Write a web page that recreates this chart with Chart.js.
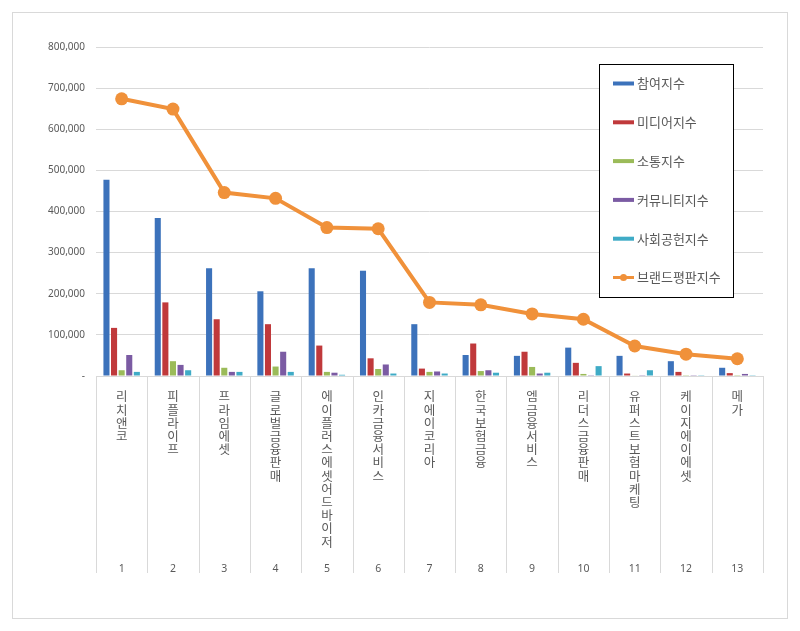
<!DOCTYPE html>
<html>
<head>
<meta charset="utf-8">
<script src="https://cdn.jsdelivr.net/npm/chart.js@4/dist/chart.umd.min.js"></script>
<style>
  html, body { margin: 0; padding: 0; background: #fff; }
  #wrap { position: relative; width: 800px; height: 631px; }
</style>
</head>
<body>
<div id="wrap"><canvas id="chart" width="800" height="631"></canvas></div>
<script>
// 브랜드 이름 (세로로 한 글자씩 표시)
const brands = ["리치앤코", "피플라이프", "프라임에셋", "글로벌금융판매", "에이플러스에셋어드바이저",
  "인카금융서비스", "지에이코리아", "한국보험금융", "엠금융서비스", "리더스금융판매",
  "유퍼스트보험마케팅", "케이지에이에셋", "메가"];
const ranks = ["1", "2", "3", "4", "5", "6", "7", "8", "9", "10", "11", "12", "13"];

const participation = [477000, 384000, 262000, 206000, 262000, 256000, 126000, 51000, 49000, 69000, 49000, 36000, 20000];
const media = [117000, 179000, 138000, 126000, 74000, 43000, 18000, 79000, 59000, 32000, 6000, 10000, 7000];
const communication = [14000, 36000, 20000, 23000, 10000, 17000, 10000, 12000, 22000, 5000, 1000, 500, 2000];
const community = [51000, 27000, 10000, 59000, 8000, 28000, 11000, 14000, 6000, 500, 500, 500, 5000];
const contribution = [10000, 14000, 10000, 10000, 3000, 6000, 6000, 8000, 8000, 24000, 14000, 500, 500];
const reputation = [674000, 649000, 446000, 432000, 361000, 358000, 179000, 173000, 151000, 138000, 73000, 53000, 42000];

const yTicks = [0, 100000, 200000, 300000, 400000, 500000, 600000, 700000, 800000];

const textColor = "#595959";
const gridColor = "#d9d9d9";
const krFont = "'Noto Sans CJK KR', 'Noto Sans', sans-serif";
const numFont = "'Noto Sans', 'Liberation Sans', sans-serif";

// 바깥 테두리, 구분선, 범례 상자
const framePlugin = {
  id: "frame",
  beforeDraw(chart) {
    const c = chart.ctx;
    c.save();
    c.fillStyle = "#fff";
    c.fillRect(0, 0, chart.width, chart.height);
    c.strokeStyle = gridColor;
    c.lineWidth = 1;
    c.strokeRect(12.5, 12.5, 775, 606);
    c.restore();
  },
  afterDraw(chart) {
    const c = chart.ctx;
    const x = chart.scales.x;
    const x2 = chart.scales.x2;
    const n = brands.length;
    c.save();
    c.strokeStyle = gridColor;
    c.lineWidth = 1;
    c.beginPath();
    for (let i = 0; i <= n; i++) {
      const px = Math.round(x.left + i * x.width / n) + 0.5;
      c.moveTo(px, chart.chartArea.bottom);
      c.lineTo(px, x2.bottom);
    }
    c.stroke();

    // 범례
    const bx = 599.5, by = 64.5, bw = 134, bh = 233;
    c.fillStyle = "#fff";
    c.fillRect(bx, by, bw, bh);
    c.strokeStyle = "#000";
    c.lineWidth = 1;
    c.strokeRect(bx, by, bw, bh);
    c.font = "13px " + krFont;
    c.textBaseline = "middle";
    chart.data.datasets.forEach((ds, i) => {
      const y = 83.5 + i * 38.8;
      c.strokeStyle = ds.borderColor;
      c.fillStyle = ds.backgroundColor;
      if (ds.type === "line") {
        c.lineWidth = 3;
        c.beginPath();
        c.moveTo(613, y);
        c.lineTo(634, y);
        c.stroke();
        c.beginPath();
        c.arc(623.5, y, 3.5, 0, Math.PI * 2);
        c.fill();
      } else {
        c.fillRect(613, y - 2, 21, 4);
      }
      c.fillStyle = textColor;
      c.fillText(ds.label, 637, y);
    });
    c.restore();
  }
};

const barCommon = {
  type: "bar",
  xAxisID: "x",
  categoryPercentage: 0.74,
  barPercentage: 0.8,
  borderWidth: 0,
  order: 2
};

new Chart(document.getElementById("chart").getContext("2d"), {
  data: {
    labels: brands,
    datasets: [
      { ...barCommon, label: "참여지수", data: participation, backgroundColor: "#3c72bb", borderColor: "#3c72bb" },
      { ...barCommon, label: "미디어지수", data: media, backgroundColor: "#c0393b", borderColor: "#c0393b" },
      { ...barCommon, label: "소통지수", data: communication, backgroundColor: "#9bbb59", borderColor: "#9bbb59" },
      { ...barCommon, label: "커뮤니티지수", data: community, backgroundColor: "#7b5ba3", borderColor: "#7b5ba3" },
      { ...barCommon, label: "사회공헌지수", data: contribution, backgroundColor: "#3fabc6", borderColor: "#3fabc6" },
      {
        type: "line", label: "브랜드평판지수", data: reputation, xAxisID: "x", order: 1,
        borderColor: "#f0913a", backgroundColor: "#f0913a", borderWidth: 4,
        pointRadius: 6.5, pointHoverRadius: 6.5, pointBorderWidth: 0, tension: 0
      }
    ]
  },
  options: {
    responsive: false,
    animation: false,
    layout: { padding: { left: 12, right: 37, top: 47, bottom: 58 } },
    plugins: { legend: { display: false }, tooltip: { enabled: false } },
    scales: {
      y: {
        min: 0, max: 800000,
        afterFit(s) { s.width = 84; },
        afterBuildTicks(s) { s.ticks = yTicks.map(v => ({ value: v })); },
        border: { display: false },
        grid: { color: gridColor, drawTicks: false },
        ticks: {
          padding: 11,
          color: textColor,
          font: { family: numFont, size: 10 },
          callback: v => v === 0 ? "-" : v.toLocaleString("en-US")
        }
      },
      x: {
        position: "bottom",
        afterFit(s) { s.height = 175; },
        border: { color: gridColor },
        grid: { display: false, drawTicks: false },
        ticks: {
          autoSkip: false, maxRotation: 0, minRotation: 0, padding: 14,
          color: textColor,
          font: { family: krFont, size: 12.5, lineHeight: "13.2px" },
          callback(v, i) { return brands[i].split(""); }
        }
      },
      x2: {
        type: "category",
        labels: ranks,
        position: "bottom",
        offset: true,
        afterFit(s) { s.height = 22; },
        border: { display: false },
        grid: { display: false, drawTicks: false },
        ticks: {
          autoSkip: false, maxRotation: 0, padding: 12,
          color: textColor,
          font: { family: numFont, size: 10.5 }
        }
      }
    }
  },
  plugins: [framePlugin]
});
</script>
</body>
</html>
